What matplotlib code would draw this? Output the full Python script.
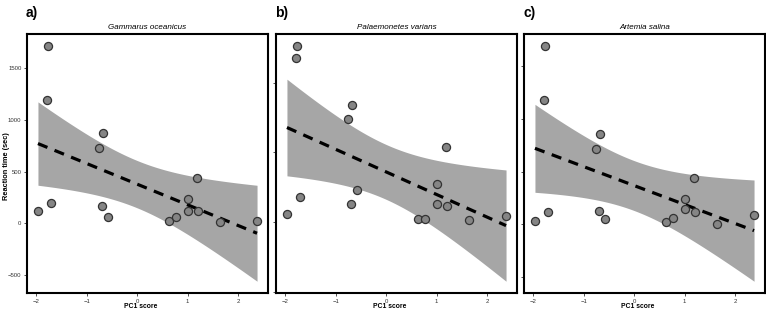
import numpy as np
import matplotlib
matplotlib.use("Agg")
import matplotlib.pyplot as plt

plt.rcParams['font.family'] = ['Liberation Sans', 'DejaVu Sans']

# PC1 scores (same individuals in every panel)
pc1 = [-1.77, -1.79, -1.97, -1.72, -0.68, -0.76, -0.69, -0.58,
       0.63, 0.78, 1.01, 1.00, 1.18, 1.21, 1.65, 2.38]

# reaction times (sec) per prey species
gammarus = [1720, 1196, 120, 197, 870, 727, 165, 58,
            23, 58, 239, 116, 440, 116, 13, 23]
palaemonetes = [1264, 1175, 60, 177, 842, 739, 127, 233,
                22, 26, 273, 132, 535, 113, 14, 46]
artemia = [1692, 1180, 35, 118, 859, 716, 127, 48,
           22, 60, 238, 143, 436, 118, 3, 92]

titles = ["Gammarus oceanicus", "Palaemonetes varians", "Artemia salina"]
tags = ["a)", "b)", "c)"]
yticks = [-500, 0, 500, 1000, 1500]
xticks = [-2, -1, 0, 1, 2]

T975 = 2.145  # t quantile, df = 14


def lm_band(x, y, xs):
    # straight-line fit with 95% confidence band, like geom_smooth(method="lm")
    x = np.asarray(x, float)
    y = np.asarray(y, float)
    b, a = np.polyfit(x, y, 1)
    fit = a + b * xs
    res = y - (a + b * x)
    n = len(x)
    s = np.sqrt(np.sum(res ** 2) / (n - 2))
    se = s * np.sqrt(1 / n + (xs - x.mean()) ** 2 / np.sum((x - x.mean()) ** 2))
    return fit, fit - T975 * se, fit + T975 * se


fig = plt.figure(figsize=(7.66, 3.12), dpi=100)
lefts = [27, 276, 524]
W, H = 766, 312

for i, (yv, title, tag) in enumerate(zip([gammarus, palaemonetes, artemia], titles, tags)):
    ax = fig.add_axes([lefts[i] / W, 1 - 293 / H, 241 / W, (293 - 34) / H])
    xs = np.linspace(min(pc1), max(pc1), 80)
    fit, lo, hi = lm_band(pc1, yv, xs)
    ax.fill_between(xs, lo, hi, color="#a6a6a6", lw=0, zorder=1)
    ax.plot(xs, fit, color="black", lw=2.3, ls=(0, (3.2, 2.4)), zorder=2)
    ax.scatter(pc1, yv, s=34, c="#858585", edgecolors="#333333", linewidths=0.9, zorder=3)

    ax.set_xticks(xticks)
    ax.set_xticklabels([str(t).replace("-", "\u2212") for t in xticks])
    ax.set_yticks(yticks)
    if i == 0:
        ax.set_yticklabels([str(t).replace("-", "\u2212") for t in yticks])
        ax.set_ylabel("Reaction time (sec)", fontsize=5.3, fontweight="bold")
        ax.yaxis.set_label_coords(-0.072, 0.49)
    else:
        ax.set_yticklabels([])

    # ggplot-like 5% expansion (after the ticks so they don't widen the view)
    ymin = min(lo.min(), min(yv))
    ymax = max(hi.max(), max(yv))
    r = ymax - ymin
    ax.set_ylim(ymin - 0.05 * r, ymax + 0.05 * r)
    xr = max(pc1) - min(pc1)
    ax.set_xlim(min(pc1) - 0.05 * xr, max(pc1) + 0.05 * xr)

    ax.tick_params(labelsize=4.3, length=2.5, width=0.6, pad=1.5, colors="#333333")
    ax.set_xlabel("PC1 score", fontsize=4.9, fontweight="bold")
    ax.xaxis.set_label_coords(0.47, -0.04)
    ax.set_title(title, fontsize=5.8, style="italic", pad=3.5)
    for sp in ax.spines.values():
        sp.set_linewidth(1.5)
        sp.set_color("black")

    fig.text((lefts[i] - 1) / W, 1 - 6 / H, tag, fontsize=10, fontweight="bold",
             va="top", ha="left")

fig.savefig("out.png", dpi=100)
